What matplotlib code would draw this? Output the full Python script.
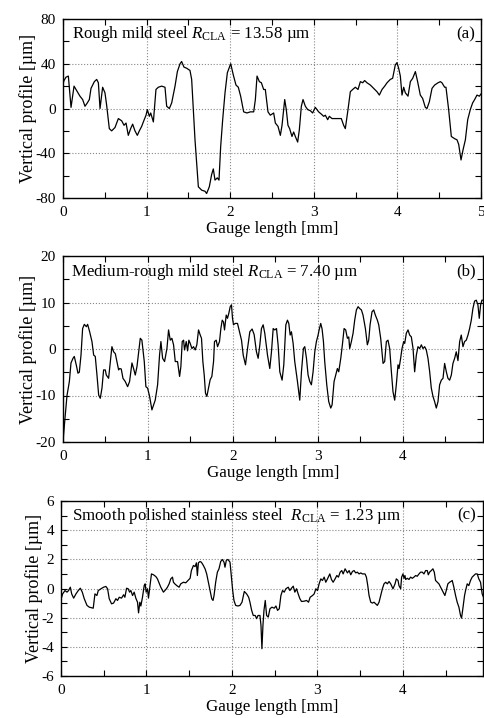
import matplotlib
matplotlib.use('Agg')
import matplotlib.pyplot as plt
from matplotlib.ticker import MultipleLocator

plt.rcParams['font.family'] = ['Liberation Serif', 'DejaVu Serif']
plt.rcParams['mathtext.fontset'] = 'custom'
plt.rcParams['mathtext.rm'] = 'Liberation Serif'
plt.rcParams['mathtext.it'] = 'Liberation Serif:italic'
plt.rcParams['axes.unicode_minus'] = False
plt.rcParams['font.size'] = 11

# --- DATA ---
# (a) rough mild steel
xa = [0.0, 0.012, 0.036, 0.064, 0.096, 0.132, 0.203, 0.235, 0.263, 0.291, 0.315, 0.335, 0.375, 0.403,
      0.423, 0.443, 0.474, 0.502, 0.522, 0.554, 0.582, 0.622, 0.662, 0.702, 0.730, 0.754, 0.781, 0.809,
      0.833, 0.861, 0.889, 0.913, 0.941, 0.961, 0.993, 1.009, 1.033, 1.049, 1.081, 1.112, 1.140, 1.180,
      1.220, 1.240, 1.272, 1.300, 1.340, 1.368, 1.400, 1.419, 1.447, 1.479, 1.519, 1.539, 1.579, 1.619,
      1.659, 1.699, 1.718, 1.750, 1.778, 1.798, 1.818, 1.846, 1.866, 1.886, 1.910, 1.938, 1.966, 2.006,
      2.037, 2.069, 2.097, 2.125, 2.141, 2.161, 2.201, 2.241, 2.281, 2.301, 2.321, 2.349, 2.373, 2.400,
      2.420, 2.452, 2.480, 2.520, 2.540, 2.572, 2.600, 2.620, 2.652, 2.671, 2.691, 2.711, 2.739, 2.759,
      2.779, 2.807, 2.827, 2.851, 2.871, 2.899, 2.927, 2.959, 2.986, 3.018, 3.038, 3.058, 3.090, 3.118,
      3.138, 3.166, 3.186, 3.218, 3.257, 3.297, 3.329, 3.357, 3.377, 3.409, 3.437, 3.465, 3.497, 3.529,
      3.557, 3.585, 3.608, 3.636, 3.676, 3.716, 3.756, 3.784, 3.816, 3.848, 3.876, 3.915, 3.943, 3.975,
      3.995, 4.015, 4.035, 4.055, 4.075, 4.095, 4.127, 4.155, 4.183, 4.215, 4.242, 4.274, 4.302, 4.334,
      4.354, 4.382, 4.414, 4.446, 4.486, 4.514, 4.533, 4.565, 4.581, 4.613, 4.645, 4.685, 4.713, 4.733,
      4.761, 4.785, 4.813, 4.841, 4.872, 4.900, 4.924, 4.952, 4.980, 5.0]
ya = [22, 25, 28, 29, 1, 20, 11, 8, 2, 5, 8, 18, 24, 26,
      23, 0, 19, 14, 3, -18, -20, -17, -9, -11, -15, -13, -24, -18,
      -14, -20, -24, -20, -16, -12, -6, -1, -7, -4, -12, 17, 19, 20,
      19, 2, 0, 5, 20, 33, 40, 42, 37, 36, 34, 26, -28, -70,
      -73, -74, -76, -70, -59, -54, -64, -62, -64, -34, -10, 14, 32, 40,
      30, 21, 19, 11, 5, -3, -4, -3, -3, 8, 29, 24, 23, 17,
      17, -3, -6, -4, -13, -16, -24, -15, 8, -1, -15, -18, -25, -21,
      -25, -30, -19, 2, 8, 2, -1, -2, -4, 1, -1, -3, -5, -7,
      -6, -10, -7, -9, -9, -9, -9, -15, -18, -1, 15, 17, 19, 17,
      24, 23, 25, 23, 21, 18, 15, 12, 17, 20, 23, 26, 27, 39,
      41, 36, 29, 12, 19, 14, 11, 24, 27, 33, 24, 12, 9, 1,
      0, 6, 18, 21, 23, 24, 23, 19, 19, -1, -25, -27, -28, -32,
      -46, -37, -28, -10, -1, 5, 8, 12, 11, 13]

# (b) medium-rough mild steel
xb = [0.0, 0.020, 0.047, 0.075, 0.094, 0.118, 0.133, 0.157, 0.176, 0.192, 0.212, 0.231, 0.251, 0.275,
      0.290, 0.314, 0.341, 0.361, 0.380, 0.400, 0.420, 0.439, 0.459, 0.478, 0.498, 0.510, 0.537, 0.557,
      0.576, 0.596, 0.616, 0.635, 0.655, 0.667, 0.686, 0.706, 0.733, 0.761, 0.784, 0.812, 0.831, 0.851,
      0.871, 0.890, 0.910, 0.929, 0.957, 0.976, 0.996, 1.020, 1.047, 1.067, 1.086, 1.114, 1.137, 1.153,
      1.173, 1.196, 1.224, 1.243, 1.263, 1.282, 1.302, 1.322, 1.349, 1.373, 1.388, 1.404, 1.420, 1.431,
      1.451, 1.467, 1.482, 1.498, 1.518, 1.537, 1.557, 1.576, 1.596, 1.616, 1.631, 1.647, 1.663, 1.678,
      1.694, 1.714, 1.733, 1.753, 1.773, 1.784, 1.804, 1.820, 1.843, 1.859, 1.875, 1.890, 1.902, 1.922,
      1.937, 1.953, 1.969, 1.984, 1.996, 2.008, 2.027, 2.055, 2.078, 2.102, 2.122, 2.149, 2.173, 2.200,
      2.227, 2.251, 2.278, 2.298, 2.318, 2.337, 2.357, 2.376, 2.408, 2.435, 2.455, 2.475, 2.494, 2.514,
      2.533, 2.553, 2.580, 2.600, 2.624, 2.643, 2.659, 2.675, 2.690, 2.710, 2.729, 2.761, 2.788, 2.808,
      2.831, 2.847, 2.867, 2.886, 2.906, 2.925, 2.945, 2.965, 2.984, 3.004, 3.016, 3.035, 3.051, 3.067,
      3.082, 3.106, 3.129, 3.153, 3.169, 3.192, 3.212, 3.231, 3.247, 3.271, 3.290, 3.310, 3.329, 3.349,
      3.365, 3.376, 3.396, 3.416, 3.435, 3.455, 3.475, 3.494, 3.514, 3.533, 3.561, 3.584, 3.600, 3.616,
      3.639, 3.659, 3.678, 3.702, 3.718, 3.741, 3.769, 3.788, 3.808, 3.827, 3.847, 3.867, 3.886, 3.906,
      3.925, 3.945, 3.957, 3.976, 3.992, 4.012, 4.024, 4.043, 4.063, 4.082, 4.102, 4.122, 4.141, 4.161,
      4.180, 4.200, 4.220, 4.239, 4.259, 4.278, 4.298, 4.318, 4.337, 4.357, 4.376, 4.396, 4.416, 4.435,
      4.455, 4.475, 4.494, 4.514, 4.533, 4.553, 4.573, 4.592, 4.612, 4.631, 4.651, 4.671, 4.690, 4.710,
      4.729, 4.749, 4.769, 4.788, 4.808, 4.827, 4.847, 4.867, 4.886, 4.902, 4.918, 4.933, 4.949]
yb = [-20, -15.6, -10, -7, -3, -2, -1.6, -3.5, -5.2, -5, -1.3, 4.4, 5.3, 4.8,
      5.3, 3.7, 1.6, -1.3, -1.6, -5.6, -9.9, -10.6, -8.4, -4.5, -4.5, -5.6, -6.3, -2.7,
      0.5, -0.6, -1, -2.7, -4.5, -4.2, -4.3, -6.3, -7, -8.1, -7, -3, -4.2, -5.6,
      -3.8, -0.9, 2.3, 1.9, -2.7, -8.1, -8.4, -10.2, -13.1, -12, -11, -7.7, -1.3, 1.6,
      -2, -2.7, 0.1, 4.1, 1.9, 2.3, 0.9, -2.7, -2.7, -5.9, -3.8, 1.6, 1.9, -0.2,
      1.6, -0.4, 1.9, 1.2, 0.1, 0.5, -0.2, 0.9, 4.1, 3, 2.3, -2.7, -5.6, -9.5,
      -10.2, -8.4, -6.6, -5.9, -2.7, 1.6, 1.9, 0.5, 1.6, 4.4, 6.2, 5.8, 4.1, 7.3,
      6.6, 7.7, 9.1, 9.5, 6.6, 5.2, 5.5, 5.5, 3.7, 1.9, -1.3, -3.4, 0.1, 3.7,
      4.3, 3.1, -0.6, -2, 0.9, 4.4, 5.2, 3.4, -1.3, -4.2, -0.6, 4.4, 4.1, 4.4,
      0.9, -4.9, -6.7, -3.4, 5.2, 6.2, 5.5, 3, 3.7, 1.2, -2.7, -7, -11, -4.9,
      0.1, 0.5, -2, -5.6, -7, -7.7, -4.9, -0.6, 1.6, 3, 4.1, 5.5, 4.3, 1.6,
      -2.7, -7.7, -11.3, -12.7, -12, -7, -5.6, -4.2, -4.9, -2, 0.9, 4.4, 4.1, 2.3,
      2.6, 0.1, 1.6, 3.4, 6.2, 8.4, 9.1, 8.7, 8.4, 7.3, 4.4, 0.9, 1.9, 5.2,
      8, 8.4, 7.3, 6.2, 5.2, 2.3, -3.1, -2.7, 1.6, 1.9, 0.1, -4.9, -9.2, -11,
      -7.7, -3.4, -4.2, -2, 0.1, 1.6, 1.2, 3.4, 4.1, 3, 2.6, 0.1, -4.9, -1.3,
      0.5, 0.1, 0.9, 0.1, 0.5, -0.2, -2, -4.9, -8.4, -10.2, -11.3, -12.7, -11.3, -7.7,
      -6.7, -6.3, -3.1, -4.9, -6.3, -6.7, -5.6, -3.1, -2, -0.6, -2.5, 1.6, 3, 0.5,
      1.6, 1.9, 3, 4.4, 6.2, 8.7, 10.3, 10.5, 9.5, 6.6, 9.5, 10.5, 10.5]

# (c) smooth polished stainless steel
xc = [0.0, 0.019, 0.047, 0.070, 0.089, 0.109, 0.125, 0.148, 0.175, 0.202, 0.226, 0.249, 0.272, 0.304,
      0.331, 0.358, 0.377, 0.397, 0.420, 0.436, 0.467, 0.498, 0.525, 0.545, 0.564, 0.591, 0.615, 0.642,
      0.661, 0.681, 0.708, 0.732, 0.747, 0.767, 0.786, 0.802, 0.817, 0.837, 0.856, 0.875, 0.895, 0.907,
      0.922, 0.934, 0.953, 0.973, 0.984, 0.996, 1.012, 1.023, 1.039, 1.058, 1.082, 1.109, 1.128, 1.148,
      1.167, 1.198, 1.226, 1.245, 1.265, 1.284, 1.304, 1.315, 1.331, 1.354, 1.381, 1.401, 1.432, 1.459,
      1.486, 1.510, 1.525, 1.549, 1.568, 1.584, 1.595, 1.607, 1.626, 1.642, 1.665, 1.685, 1.704, 1.724,
      1.743, 1.763, 1.778, 1.790, 1.809, 1.829, 1.848, 1.868, 1.887, 1.907, 1.918, 1.934, 1.953, 1.977,
      1.992, 2.008, 2.023, 2.043, 2.070, 2.093, 2.117, 2.144, 2.171, 2.195, 2.210, 2.230, 2.249, 2.272,
      2.288, 2.304, 2.327, 2.339, 2.350, 2.362, 2.374, 2.389, 2.405, 2.424, 2.444, 2.467, 2.494, 2.514,
      2.533, 2.553, 2.572, 2.591, 2.611, 2.630, 2.658, 2.677, 2.696, 2.716, 2.735, 2.755, 2.774, 2.794,
      2.813, 2.844, 2.872, 2.895, 2.914, 2.942, 2.961, 2.981, 3.000, 3.019, 3.039, 3.058, 3.078, 3.097,
      3.117, 3.144, 3.163, 3.183, 3.206, 3.226, 3.245, 3.265, 3.284, 3.300, 3.323, 3.350, 3.370, 3.389,
      3.409, 3.428, 3.447, 3.467, 3.486, 3.506, 3.525, 3.556, 3.572, 3.588, 3.603, 3.623, 3.642, 3.661,
      3.681, 3.700, 3.720, 3.739, 3.759, 3.778, 3.798, 3.817, 3.837, 3.856, 3.883, 3.907, 3.922, 3.942,
      3.953, 3.973, 3.984, 4.000, 4.012, 4.023, 4.031, 4.051, 4.070, 4.089, 4.109, 4.128, 4.148, 4.167,
      4.187, 4.206, 4.226, 4.245, 4.265, 4.284, 4.296, 4.311, 4.331, 4.350, 4.366, 4.381, 4.401, 4.420,
      4.440, 4.459, 4.479, 4.490, 4.506, 4.525, 4.545, 4.560, 4.576, 4.595, 4.615, 4.634, 4.654, 4.673,
      4.685, 4.700, 4.720, 4.732, 4.751, 4.770, 4.790, 4.809, 4.829, 4.848, 4.868, 4.887, 4.907, 4.926,
      4.949]
yc = [-0.75, -0.37, -0.14, -0.25, -0.14, 0.09, -0.37, -0.66, -0.37, -0.14, 0.02, -0.25, -0.7, -1.16,
      -1.28, -1.32, -1.35, -0.37, -0.48, -0.14, -0.02, 0.09, 0.14, -0.02, -0.7, -1.05, -1, -0.7,
      -0.82, -0.6, -0.66, -0.43, -0.6, 0.02, -0.02, -0.25, -0.14, -0.48, -0.25, -0.66, -0.94, -1.67,
      -0.94, -1.2, -0.6, 0.2, 0.32, -0.25, -0.02, -0.66, 0.09, 1.0, 0.94, 0.82, 0.66, 0.37,
      0.09, -0.25, -0.07, 0.09, 0.32, 0.66, 0.78, 0.43, 0.32, 0.2, 0.09, 0.32, 0.43, 0.39,
      0.55, 0.7, 1.23, 1.58, 1.5, 1.76, 0.89, 1.76, 1.85, 1.8, 1.58, 1.35, 1.0, 0.43,
      -0.14, -0.7, -0.82, -0.48, 0.43, 1.12, 1.35, 1.85, 1.99, 1.8, 1.46, 1.94, 1.99, 1.8,
      0.89, -0.14, -0.82, -1.16, -1.2, -1.16, -0.94, -0.2, -0.37, -0.6, -0.94, -1.5, -1.85, -1.85,
      -2.07, -1.85, -1.85, -2.53, -4.13, -2.53, -1.5, -0.82, -1.85, -1.96, -1.39, -1.28, -1.35, -1.2,
      -1.5, -1.39, -0.48, -0.14, -0.25, -0.02, 0.09, -0.14, 0.02, 0.16, -0.25, -0.02, -0.37, -0.7,
      -0.89, -0.87, -0.82, -0.94, -0.6, -0.48, -0.37, -0.02, -0.14, 0.32, 0.66, 0.55, 0.78, 0.43,
      0.66, 1.0, 0.62, 0.43, 0.66, 0.89, 0.78, 1.12, 1.23, 1.0, 1.35, 1.07, 1.23, 0.94,
      1.17, 1.23, 1.07, 1.12, 1.0, 1.07, 1.0, 1.0, 0.78, 0.2, -0.48, -0.94, -1.0, -0.94,
      -1.05, -1.16, -0.94, -0.48, -0.02, 0.32, 0.43, 0.32, 0.48, 0.32, -0.02, 0.32, 0.66, 0.55,
      0.2, -0.02, 0.78, 1.0, 0.7, 0.89, 0.62, 0.7, 0.62, 0.78, 0.7, 0.78, 0.89, 0.84,
      1.0, 1.12, 1.12, 1.0, 1.23, 1.23, 0.94, 1.12, 1.23, 1.35, 1.12, 0.55, 0.43, 0.32,
      0.09, -0.14, -0.37, -0.48, -0.14, 0.32, 0.43, 0.48, 0.55, 0.09, -0.48, -0.94, -1.28, -1.85,
      -2.03, -1.39, -0.48, -0.14, 0.32, 0.2, 0.55, 0.78, 0.89, 1.0, 1.0, 0.66, 0.43, -0.37,
      -0.7]

titles = ['Rough mild steel $R_\\mathrm{CLA}$ = 13.58 \u00b5m',
          'Medium-rough mild steel $R_\\mathrm{CLA}$ = 7.40 \u00b5m',
          'Smooth polished stainless steel  $R_\\mathrm{CLA}$ = 1.23 \u00b5m']
tags = ['(a)', '(b)', '(c)']
ylims = [(-80, 80), (-20, 20), (-6, 6)]
ymajor = [40, 10, 2]
yminor = [20, 5, 1]
xmaxs = [5, 4.94, 4.93]

W, H = 484, 718
fig = plt.figure(figsize=(W / 100, H / 100), dpi=100)
# axes boxes in pixels: left, top, right, bottom
boxes = [(63, 19, 481, 198), (63, 256, 482.5, 442), (61, 501, 482.5, 676)]
text_x = [0.022, 0.020, 0.026]

data = [(xa, ya), (xb, yb), (xc, yc)]
for i, (x, y) in enumerate(data):
    l, t, r, b = boxes[i]
    ax = fig.add_axes([l / W, 1 - b / H, (r - l) / W, (b - t) / H])
    ax.plot(x, y, color='black', linewidth=0.9)
    ax.set_xlim(0, xmaxs[i])
    ax.set_ylim(*ylims[i])
    ax.xaxis.set_major_locator(MultipleLocator(1))
    ax.xaxis.set_minor_locator(MultipleLocator(0.5))
    ax.yaxis.set_major_locator(MultipleLocator(ymajor[i]))
    ax.yaxis.set_minor_locator(MultipleLocator(yminor[i]))
    ax.tick_params(which='both', direction='in', top=True, right=True, length=4, width=0.8,
                   labelsize=11)
    ax.tick_params(axis='x', pad=6)
    ax.tick_params(axis='y', pad=5)
    ax.grid(True, which='major', linestyle=':', color='#888888', linewidth=0.8)
    for s in ax.spines.values():
        s.set_linewidth(1.0)
    ax.set_xlabel('Gauge length [mm]', fontsize=12.2, labelpad=1)
    ax.set_ylabel('Vertical profile [\u00b5m]', fontsize=13, labelpad=-1)
    ax.text(text_x[i], 0.915, titles[i], transform=ax.transAxes, ha='left', va='center', fontsize=12.2)
    ax.text(0.985, 0.915, tags[i], transform=ax.transAxes, ha='right', va='center', fontsize=12.2)

fig.savefig('out.png', dpi=100)
